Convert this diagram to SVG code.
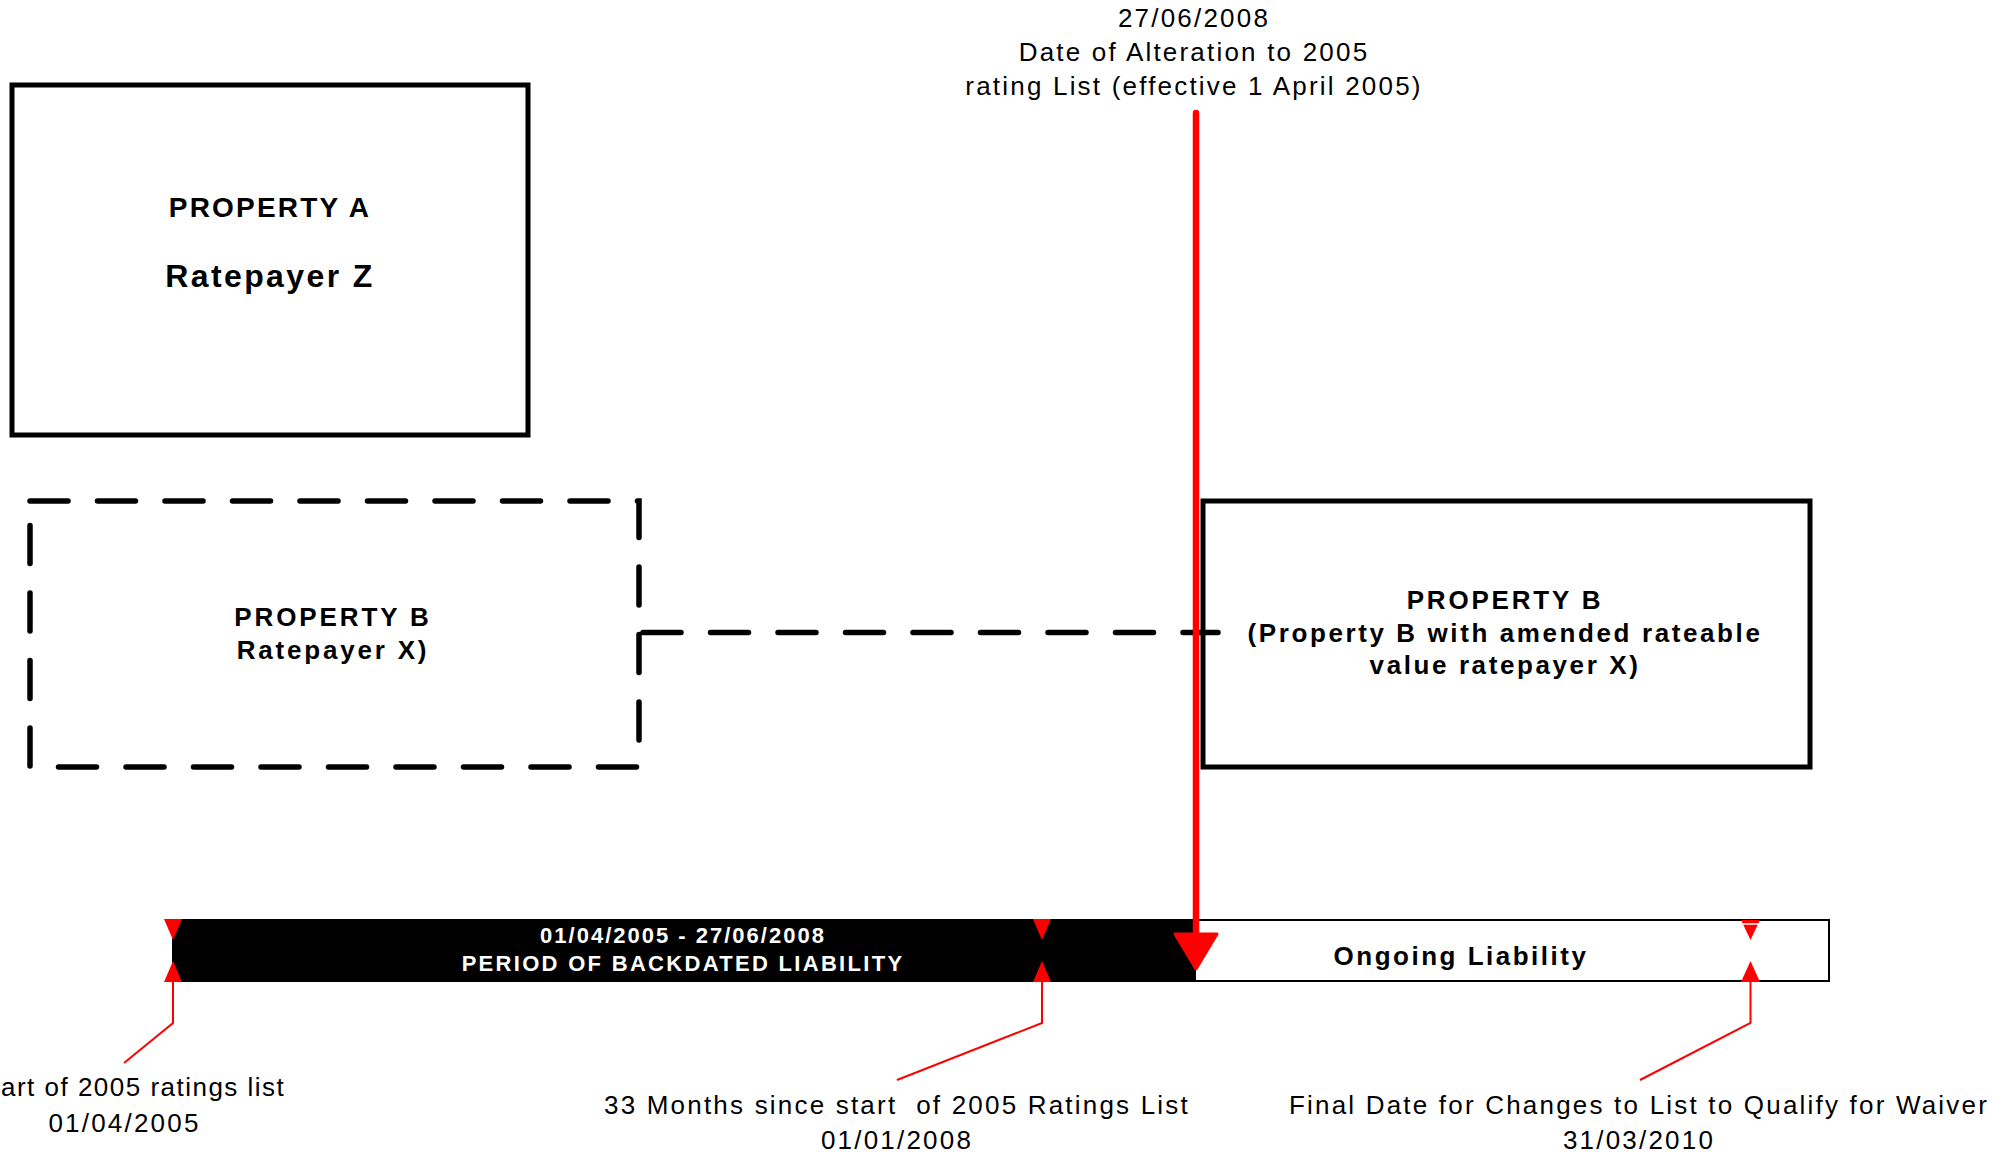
<svg xmlns="http://www.w3.org/2000/svg" width="2013" height="1154" viewBox="0 0 2013 1154">
<style>
  .lbl { font-family: "Liberation Sans", Arial, sans-serif; font-size: 26px; fill: #000; letter-spacing: 2.2px; text-anchor: middle; }
  .bold { font-family: "Liberation Sans", Arial, sans-serif; font-weight: bold; fill: #000; text-anchor: middle; }
  .box { fill: #fff; stroke: #000; stroke-width: 5; }
  .dash { fill: none; stroke: #000; stroke-width: 5.5; stroke-dasharray: 38 29.5; stroke-linecap: round; }
  .lead { fill: none; stroke: #ff0000; stroke-width: 2; }
  .tri { fill: #ff0000; }
</style>
<rect width="2013" height="1154" fill="#fff"/>

<g id="property-a">
  <rect class="box" x="12" y="85" width="516" height="350"/>
  <text class="bold" x="270" y="217" font-size="28" letter-spacing="2.2">PROPERTY A</text>
  <text class="bold" x="270" y="287" font-size="32" letter-spacing="2.4">Ratepayer Z</text>
</g>

<g id="property-b-old">
  <path class="dash" d="M30,501 H639 V767 H30 Z"/>
  <text class="bold" x="333" y="625.5" font-size="26" letter-spacing="2.9">PROPERTY B</text>
  <text class="bold" x="333" y="658.5" font-size="26" letter-spacing="2.8">Ratepayer X)</text>
</g>

<g id="property-b-new">
  <rect class="box" x="1203" y="501" width="607" height="266"/>
  <text class="bold" x="1505" y="608.5" font-size="26" letter-spacing="2.8">PROPERTY B</text>
  <text class="bold" x="1505" y="642" font-size="26" letter-spacing="2.6">(Property B with amended rateable</text>
  <text class="bold" x="1505" y="674" font-size="26" letter-spacing="2.6">value ratepayer X)</text>
</g>

<g id="timeline">
  <rect x="173" y="920" width="1656" height="61" fill="#fff" stroke="#000" stroke-width="2"/>
  <rect x="172" y="919" width="1024" height="63" fill="#000"/>
  <text class="bold" x="683" y="942.5" font-size="22" letter-spacing="2" style="fill:#fff">01/04/2005 - 27/06/2008</text>
  <text class="bold" x="683" y="970.5" font-size="22" letter-spacing="2.3" style="fill:#fff">PERIOD OF BACKDATED LIABILITY</text>
  <text class="bold" x="1461" y="964.5" font-size="26" letter-spacing="2.5">Ongoing Liability</text>
</g>

<g id="markers">
  <polygon class="tri" points="164,919 182,919 173,940"/>
  <polygon class="tri" points="164,982 182,982 173,961"/>
  <polygon class="tri" points="1033,919 1051,919 1042,940"/>
  <polygon class="tri" points="1033,982 1051,982 1042,961"/>
  <polygon class="tri" points="1741,920 1760,920 1750.5,940"/>
  <line x1="1741" y1="924" x2="1760" y2="924" stroke="#fff" stroke-width="1.5"/>
  <polygon class="tri" points="1741,982 1760,982 1750.5,961"/>
</g>

<g id="connectors">
  <line class="dash" x1="640" y1="632.5" x2="1218" y2="632.5" stroke-dashoffset="-3"/>
  <line x1="1196" y1="113" x2="1196" y2="936" stroke="#ff0000" stroke-width="6.5" stroke-linecap="round"/>
  <polygon points="1175,934 1217,934 1196,969" fill="#ff0000" stroke="#ff0000" stroke-width="3" stroke-linejoin="round"/>
  <path class="lead" d="M173,975 V1023 L124,1063"/>
  <path class="lead" d="M1042,975 V1023 L897,1080"/>
  <path class="lead" d="M1750.5,975 V1023 L1640,1080"/>
</g>

<g id="label-alteration">
  <text class="lbl" x="1194" y="27">27/06/2008</text>
  <text class="lbl" x="1194" y="61">Date of Alteration to 2005</text>
  <text class="lbl" x="1194" y="95">rating List (effective 1 April 2005)</text>
</g>

<g id="label-start">
  <text class="lbl" x="1" y="1096" textLength="285" lengthAdjust="spacing" style="text-anchor:start">art of 2005 ratings list</text>
  <text class="lbl" x="124.5" y="1132">01/04/2005</text>
</g>

<g id="label-33-months">
  <text class="lbl" x="897" y="1114" xml:space="preserve">33 Months since start  of 2005 Ratings List</text>
  <text class="lbl" x="897" y="1149">01/01/2008</text>
</g>

<g id="label-final-date">
  <text class="lbl" x="1639" y="1114">Final Date for Changes to List to Qualify for Waiver</text>
  <text class="lbl" x="1639" y="1149">31/03/2010</text>
</g>
</svg>
